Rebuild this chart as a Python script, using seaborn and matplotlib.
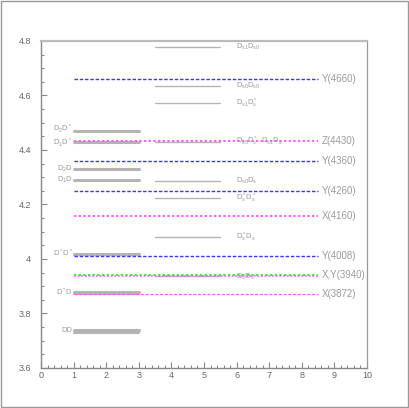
import matplotlib
matplotlib.use("Agg")
import matplotlib.pyplot as plt
import seaborn as sns
import pandas as pd
from matplotlib.patches import Rectangle
from matplotlib.ticker import MultipleLocator

sns.set_style("ticks")
plt.rcParams['font.family'] = ['Liberation Sans', 'DejaVu Sans']
plt.rcParams['mathtext.fontset'] = 'custom'
plt.rcParams['mathtext.rm'] = 'Liberation Sans'
plt.rcParams['mathtext.it'] = 'Liberation Sans'

# ---- data ----
# D-meson pair thresholds (x from 1 to 3)
left_labels = [r"D$_2$D$^*$", r"D$_1$D$^*$", r"D$_2$D", r"D$_1$D", r"D$^*$D$^*$", r"D$^*$D", "DD"]
left_values = [4.470, 4.430, 4.330, 4.290, 4.020, 3.879, 3.739]
left_extra_values = [4.014, 3.872, 3.730]   # neutral partner thresholds

# Ds-meson pair thresholds (x from 3.5 to 5.5)
mid_labels = [r"D$_{s1}$D$_{s0}$", r"D$_{s0}$D$_{s0}$", r"D$_{s1}$D$^*_s$",
              r"D$_{s0}$D$^*_s$  D$_{s1}$D$_s$", r"D$_{s0}$D$_s$", r"D$^*_s$D$^*_s$",
              r"D$^*_s$D$_s$", r"D$_s$D$_s$"]
mid_values = [4.777, 4.634, 4.572, 4.430, 4.285, 4.224, 4.080, 3.936]

# observed states (x from 1 to 8.5)
state_labels = ["Y(4660)", "Z(4430)", "Y(4360)", "Y(4260)", "X(4160)", "Y(4008)", "X,Y(3940)", "X(3872)"]
state_values = [4.660, 4.433, 4.360, 4.250, 4.158, 4.010, 3.940, 3.872]
state_kinds = ["Y", "X", "Y", "Y", "X", "Y", "XY", "X3872"]

GRAY = "#b4b4b4"
BLUE = "#3636ff"
MAG = "#ff5cff"
GREEN = "#3ce83c"
TXT = "#9a9a9a"

# small vertical nudges (points) for crowded left labels
left_nudge = [1.5, -1.0, 0, 0, 0, 0, 0]

def segs(values, x0, x1):
    rows = []
    for i, v in enumerate(values):
        rows.append({"id": i, "x": x0, "y": v})
        rows.append({"id": i, "x": x1, "y": v})
    return pd.DataFrame(rows)

fig = plt.figure(figsize=(4.09, 4.08), dpi=100)
ax = fig.add_axes([41/409, 1-368/408, 326/409, 327/408])

# left thresholds
sns.lineplot(data=segs(left_values, 1, 3), x="x", y="y", units="id", estimator=None,
             color=GRAY, lw=2.2, ax=ax, legend=False)
sns.lineplot(data=segs(left_extra_values, 1, 3), x="x", y="y", units="id", estimator=None,
             color=GRAY, lw=1.5, ax=ax, legend=False)
# middle thresholds
sns.lineplot(data=segs(mid_values, 3.5, 5.5), x="x", y="y", units="id", estimator=None,
             color=GRAY, lw=1.0, ax=ax, legend=False)

# states
for lab, v, k in zip(state_labels, state_values, state_kinds):
    d = segs([v], 1, 8.5)
    if k == "Y":
        sns.lineplot(data=d, x="x", y="y", color=BLUE, lw=1.0, ls=(0, (2.5, 1.3)), ax=ax, legend=False)
    elif k == "X":
        sns.lineplot(data=d, x="x", y="y", color=MAG, lw=1.4, ls=(0, (1.2, 1.2)), ax=ax, legend=False)
    elif k == "XY":
        sns.lineplot(data=segs([v + 0.002], 1, 8.5), x="x", y="y", color=GREEN, lw=1.4,
                     ls=(0, (1.2, 1.2)), ax=ax, legend=False)
        sns.lineplot(data=segs([v - 0.003], 1, 8.5), x="x", y="y", color=MAG, lw=1.1,
                     ls=(0, (1.2, 1.2)), ax=ax, legend=False)
    else:
        sns.lineplot(data=d, x="x", y="y", color=MAG, lw=0.9, ls=(0, (2.5, 1.3)), ax=ax, legend=False)
    ax.text(8.62, v, lab, color=TXT, fontsize=7, va="center", ha="left")

for lab, v, dy in zip(left_labels, left_values, left_nudge):
    ax.annotate(lab, xy=(0.97, v), xytext=(0, dy), textcoords="offset points",
                color=TXT, fontsize=5.5, va="center", ha="right")
for lab, v in zip(mid_labels, mid_values):
    ax.text(5.98, v, lab, color=TXT, fontsize=5.5, va="center", ha="left")

ax.set_xlim(0, 10)
ax.set_ylim(3.6, 4.8)
ax.set_xlabel("")
ax.set_ylabel("")
ax.xaxis.set_major_locator(MultipleLocator(1))
ax.xaxis.set_minor_locator(MultipleLocator(0.2))
ax.yaxis.set_minor_locator(MultipleLocator(0.05))
ax.set_yticks([3.6, 3.8, 4.0, 4.2, 4.4, 4.6, 4.8])
ax.set_yticklabels(["3.6", "3.8", "4", "4.2", "4.4", "4.6", "4.8"])
ax.tick_params(which="both", direction="in", colors="#888888", labelcolor="#666666",
               labelsize=6.5)
ax.tick_params(which="major", length=4.5, width=0.8)
ax.tick_params(which="minor", length=2.2, width=0.8)
ax.tick_params(axis="y", which="major", pad=7)
ax.tick_params(axis="x", which="major", pad=2)

for s in ["left", "bottom"]:
    ax.spines[s].set_color("#888888")
    ax.spines[s].set_linewidth(1.0)
ax.spines["top"].set_color("#bbbbbb")
ax.spines["top"].set_linewidth(1.6)
ax.spines["right"].set_color("#999999")
ax.spines["right"].set_linewidth(0.9)

fig.patches.append(Rectangle((0.5/409, 1.5/408), 407/409, 405.5/408, transform=fig.transFigure,
                             fill=False, edgecolor="#999999", lw=1.0))

fig.savefig("out.png", dpi=100)
